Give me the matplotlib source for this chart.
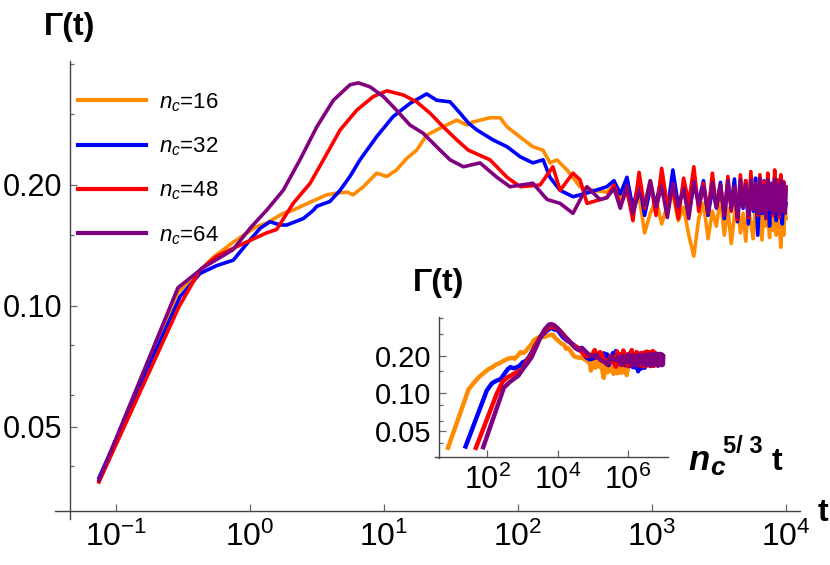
import matplotlib
matplotlib.use("Agg")
import matplotlib.pyplot as plt
from matplotlib.ticker import NullFormatter

plt.rcParams['font.family'] = ['Liberation Sans', 'DejaVu Sans']
plt.rcParams['mathtext.fontset'] = 'custom'
plt.rcParams['mathtext.rm'] = 'Liberation Sans'
plt.rcParams['mathtext.it'] = 'Liberation Sans:italic'
plt.rcParams['mathtext.bf'] = 'Liberation Sans:bold'

# ---- data: Gamma(t) for each n_c ----
sizes = [16, 32, 48, 64]
colors = ['#ff8c00', '#0000ff', '#ff0000', '#800080']
labels = [r'$n_c$=16', r'$n_c$=32', r'$n_c$=48', r'$n_c$=64']

t16 = [0.0747, 0.290, 0.530, 0.746, 0.951, 1.12, 1.34, 1.77, 2.09, 2.50,
       3.73, 4.46, 5.30, 5.87, 7.01, 8.82, 10.5, 12.4, 14.8, 17.5,
       20.8, 26.2, 34.9, 41.4, 46.2, 61.8, 73.5, 82.8, 104, 129,
       154, 173, 195, 232, 290, 363]
g16 = [0.0365, 0.108, 0.132, 0.144, 0.152, 0.1575, 0.161, 0.170, 0.173, 0.178,
       0.189, 0.191, 0.192, 0.189, 0.198, 0.214, 0.210, 0.218, 0.233, 0.244,
       0.266, 0.277, 0.290, 0.282, 0.287, 0.294, 0.294, 0.279, 0.263, 0.249,
       0.244, 0.227, 0.231, 0.218, 0.198, 0.194]

t32 = [0.0747, 0.301, 0.424, 0.564, 0.750, 1.0, 1.19, 1.41, 1.68, 1.88,
       2.50, 2.97, 3.15, 3.95, 4.70, 5.57, 6.62, 8.83, 11.7, 15.6,
       20.8, 24.7, 31.1, 36.9, 42.7, 49.4, 65.0, 82.8, 104, 129,
       154, 173, 206, 257, 327]
g32 = [0.0374, 0.1055, 0.1205, 0.126, 0.130, 0.146, 0.156, 0.162, 0.159, 0.159,
       0.165, 0.173, 0.177, 0.182, 0.194, 0.210, 0.231, 0.264, 0.296, 0.319,
       0.337, 0.325, 0.322, 0.302, 0.285, 0.274, 0.259, 0.249, 0.235, 0.227,
       0.231, 0.209, 0.194, 0.187, 0.191]

t48 = [0.0747, 0.295, 0.424, 0.564, 0.891, 1.33, 1.58, 2.10, 2.81, 3.53,
       4.70, 6.26, 8.32, 10.5, 13.9, 17.5, 22.0, 27.7, 34.9, 42.7,
       61.8, 82.8, 104, 146, 182, 206, 257, 290, 327]
g48 = [0.0365, 0.0995, 0.123, 0.133, 0.143, 0.152, 0.155, 0.180, 0.202, 0.231,
       0.274, 0.307, 0.332, 0.343, 0.335, 0.322, 0.302, 0.279, 0.259, 0.244,
       0.231, 0.209, 0.198, 0.200, 0.222, 0.194, 0.214, 0.206, 0.180]

t64 = [0.0747, 0.290, 0.446, 0.746, 1.00, 1.33, 1.77, 2.36, 3.15, 4.19,
       5.57, 6.43, 7.86, 9.89, 12.4, 15.6, 19.6, 24.7, 31.1, 39.1,
       52.0, 69.6, 87.1, 129, 165, 206, 257, 327, 409]
g64 = [0.0369, 0.111, 0.1245, 0.138, 0.156, 0.173, 0.194, 0.231, 0.279, 0.325,
       0.355, 0.359, 0.351, 0.332, 0.307, 0.282, 0.269, 0.249, 0.231, 0.222,
       0.227, 0.209, 0.198, 0.202, 0.184, 0.180, 0.170, 0.198, 0.184]

# noisy late-time part, shared time points
t_tail = [460, 520, 580, 650, 720, 800, 880, 970, 1070, 1180,
          1300, 1430, 1570, 1720, 1880, 2050, 2230, 2420, 2620, 2820,
          3020, 3240, 3460, 3680, 3900, 4120, 4340, 4560, 4780, 5000,
          5230, 5460, 5690, 5920, 6150, 6380, 6610, 6840, 7070, 7300,
          7530, 7760, 7990, 8220, 8450, 8680, 8910, 9140, 9370, 9600,
          9830, 10000]
g16_tail = [0.192, 0.199, 0.186, 0.195, 0.178, 0.188, 0.152, 0.170, 0.184, 0.160,
            0.178, 0.190, 0.163, 0.176, 0.150, 0.133, 0.165, 0.180, 0.147, 0.172,
            0.158, 0.186, 0.150, 0.175, 0.143, 0.168, 0.182, 0.152, 0.170, 0.145,
            0.178, 0.160, 0.147, 0.183, 0.155, 0.172, 0.146, 0.180, 0.158, 0.169,
            0.148, 0.184, 0.154, 0.175, 0.150, 0.178, 0.160, 0.140, 0.176, 0.150,
            0.182, 0.165]
g32_tail = [0.198, 0.205, 0.190, 0.209, 0.175, 0.205, 0.168, 0.196, 0.180, 0.210,
            0.172, 0.218, 0.178, 0.195, 0.170, 0.200, 0.182, 0.205, 0.168, 0.196,
            0.176, 0.203, 0.165, 0.199, 0.178, 0.207, 0.162, 0.194, 0.175, 0.205,
            0.160, 0.198, 0.172, 0.208, 0.150, 0.196, 0.170, 0.205, 0.165, 0.200,
            0.158, 0.197, 0.175, 0.209, 0.163, 0.200, 0.170, 0.206, 0.160, 0.195,
            0.172, 0.180]
g48_tail = [0.186, 0.200, 0.178, 0.194, 0.163, 0.215, 0.175, 0.205, 0.168, 0.220,
            0.178, 0.196, 0.165, 0.208, 0.180, 0.222, 0.172, 0.202, 0.170, 0.214,
            0.176, 0.200, 0.168, 0.210, 0.172, 0.198, 0.164, 0.212, 0.178, 0.205,
            0.166, 0.216, 0.175, 0.200, 0.168, 0.212, 0.172, 0.204, 0.165, 0.214,
            0.176, 0.200, 0.168, 0.218, 0.174, 0.206, 0.166, 0.212, 0.172, 0.204,
            0.175, 0.198]
g64_tail = [0.186, 0.196, 0.175, 0.200, 0.170, 0.192, 0.178, 0.205, 0.176, 0.198,
            0.166, 0.202, 0.176, 0.196, 0.165, 0.204, 0.178, 0.198, 0.170, 0.203,
            0.175, 0.200, 0.168, 0.205, 0.174, 0.198, 0.166, 0.206, 0.176, 0.200,
            0.168, 0.205, 0.174, 0.202, 0.170, 0.208, 0.172, 0.200, 0.166, 0.206,
            0.174, 0.202, 0.170, 0.207, 0.172, 0.200, 0.168, 0.205, 0.172, 0.202,
            0.170, 0.196]

curves_t = [t16 + t_tail, t32 + t_tail, t48 + t_tail, t64 + t_tail]
curves_g = [g16 + g16_tail, g32 + g32_tail, g48 + g48_tail, g64 + g64_tail]

main_xticks = [0.1, 1, 10, 100, 1000, 10000]
main_xlabels = [r'$10^{-1}$', r'$10^{0}$', r'$10^{1}$', r'$10^{2}$', r'$10^{3}$', r'$10^{4}$']
yticks = [0.05, 0.10, 0.20]
ylabels = ['0.05', '0.10', '0.20']
yminor = [0.04, 0.06, 0.08, 0.15, 0.3, 0.4]
inset_xticks = [1e2, 1e4, 1e6]
inset_xlabels = [r'$10^{2}$', r'$10^{4}$', r'$10^{6}$']

W, H = 830, 565
fig = plt.figure(figsize=(W / 100, H / 100), dpi=100)


def px_box(x0, y0, x1, y1):
    return [x0 / W, 1 - y1 / H, (x1 - x0) / W, (y1 - y0) / H]


def style(ax, xlim, ylim, xcross, ycross, xt, xl, xpad, ypad, xfs, yfs):
    ax.set_xscale('log')
    ax.set_yscale('log')
    ax.set_xlim(*xlim)
    ax.set_ylim(*ylim)
    ax.patch.set_visible(False)
    for s in ['top', 'right']:
        ax.spines[s].set_visible(False)
    ax.spines['left'].set_position(('data', xcross))
    ax.spines['bottom'].set_position(('data', ycross))
    for s in ['left', 'bottom']:
        ax.spines[s].set_color('#444444')
        ax.spines[s].set_linewidth(1.0)
    ax.set_xticks(xt, xl)
    ax.set_xticks([], minor=True)
    ax.set_yticks(yticks, ylabels)
    ax.set_yticks(yminor, minor=True)
    ax.yaxis.set_minor_formatter(NullFormatter())
    ax.tick_params(which='both', direction='in', color='#666666', width=0.9)
    ax.tick_params(which='major', length=5)
    ax.tick_params(which='minor', length=3)
    ax.tick_params(axis='x', pad=xpad, labelsize=xfs)
    ax.tick_params(axis='y', pad=ypad, labelsize=yfs)


# main axes
ax = fig.add_axes(px_box(55, 61, 800, 519))
style(ax, (10 ** -1.455, 10 ** 4.104), (10 ** -1.530, 10 ** -0.3905),
      10 ** -1.343, 10 ** -1.510, main_xticks, main_xlabels, 8, 5.5, 23, 22)
for tt, gg, c, lab in zip(curves_t, curves_g, colors, labels):
    ax.plot(tt, gg, color=c, lw=2.6, label=lab, solid_joinstyle='round')

leg = ax.legend(loc='upper left', bbox_to_anchor=(78 / W, 1 - 91 / H),
                bbox_transform=fig.transFigure, frameon=False, fontsize=16,
                handlelength=3.05, handletextpad=0.6, labelspacing=0.98,
                borderpad=0, borderaxespad=0)
for line in leg.get_lines():
    line.set_linewidth(3.0)

fig.text(70 / W, 1 - 35.5 / H, 'Γ(t)', ha='center', va='baseline',
         fontsize=23, fontweight='bold')
fig.text(823 / W, 1 - 521 / H, 't', ha='center', va='baseline',
         fontsize=23, fontweight='bold')

# inset: same data against n_c^(5/3) t
ins = fig.add_axes(px_box(435, 316.7, 668, 458.3))
style(ins, (10 ** 0.510, 10 ** 7.148), (10 ** -1.522, 10 ** -0.386),
      10 ** 0.63, 10 ** -1.509, inset_xticks, inset_xlabels, 6, 6, 22, 21)
for n, tt, gg, c in zip(sizes, curves_t, curves_g, colors):
    scale = n ** (5 / 3)
    ins.plot([v * scale for v in tt], gg, color=c, lw=3.2, solid_joinstyle='round')

fig.text(439 / W, 1 - 291 / H, 'Γ(t)', ha='center', va='baseline',
         fontsize=23, fontweight='bold')
# x label of the inset: n_c^(5/3) t, pieces placed by hand
fig.text(688 / W, 1 - 470 / H, 'n', ha='left', va='baseline',
         fontsize=25, fontweight='bold', fontstyle='italic')
fig.text(710 / W, 1 - 475 / H, 'c', ha='left', va='baseline',
         fontsize=19, fontweight='bold', fontstyle='italic')
fig.text(723 / W, 1 - 453 / H, '5/ 3', ha='left', va='baseline',
         fontsize=17, fontweight='bold')
fig.text(772 / W, 1 - 470 / H, 't', ha='left', va='baseline',
         fontsize=23, fontweight='bold')

fig.savefig('out.png', dpi=100)
